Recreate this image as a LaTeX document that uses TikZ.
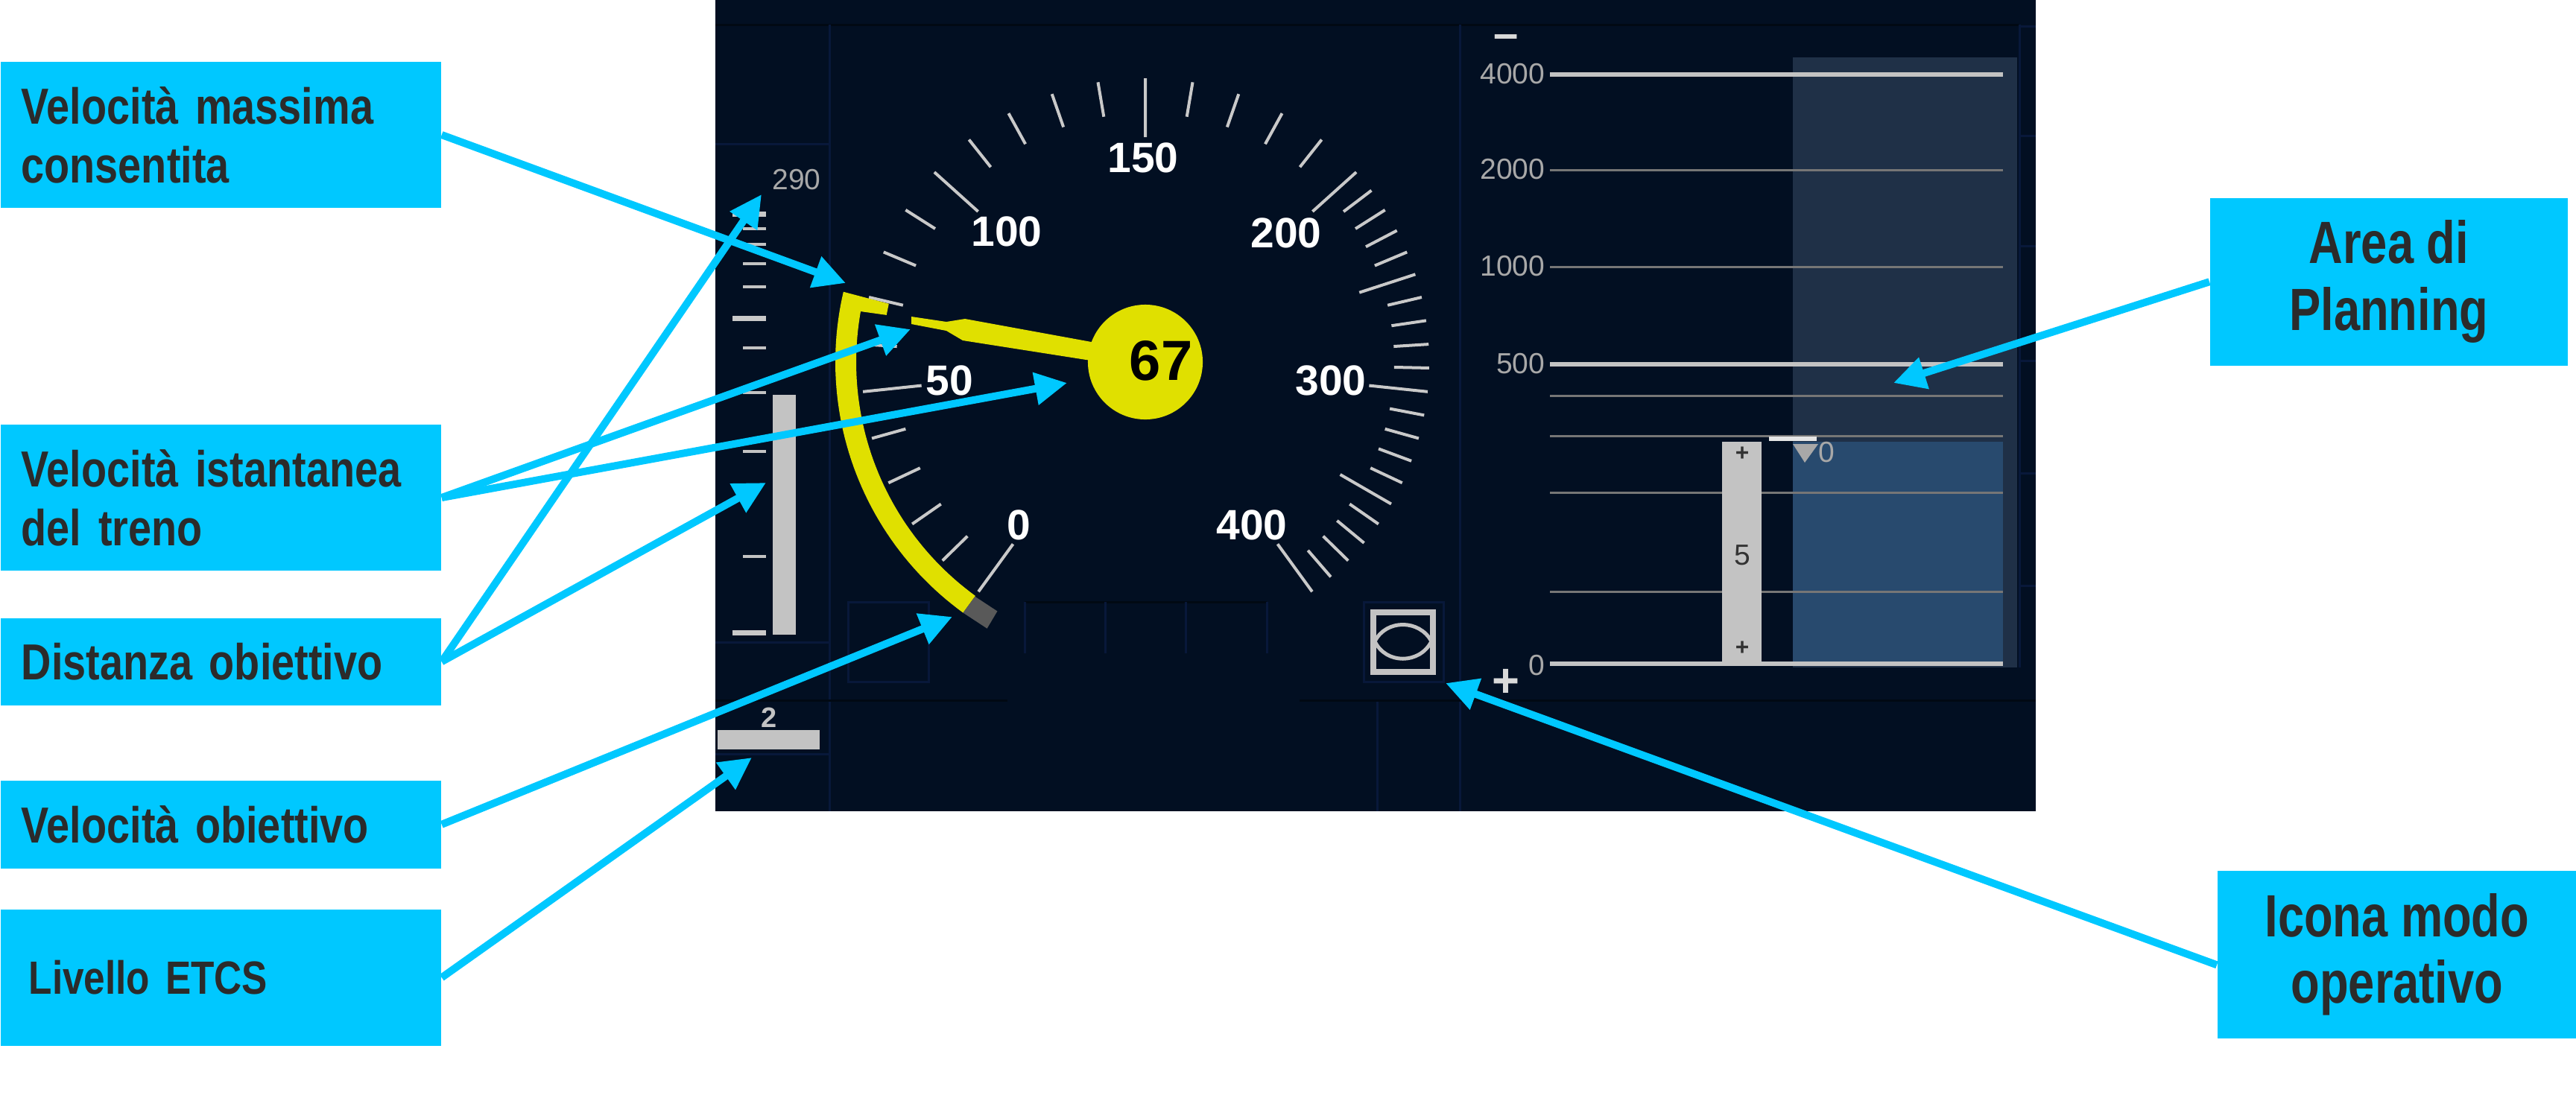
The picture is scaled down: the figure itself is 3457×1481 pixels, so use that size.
\documentclass[tikz,border=0pt]{standalone}
\usepackage{fontspec}
\usepackage{xcolor}
\setmainfont{Liberation Sans}
\newfontfamily\lblfont{Liberation Sans}[FakeStretch=0.82]
\newfontfamily\bigfont{Liberation Sans}[FakeStretch=0.79]
\usetikzlibrary{arrows.meta, positioning, calc}

\definecolor{screenbg}{HTML}{020F22}
\definecolor{panelnavy}{HTML}{08183A}
\definecolor{paneldark}{HTML}{010913}
\definecolor{callout}{HTML}{00C8FF}
\definecolor{calltext}{HTML}{2B2B2B}
\definecolor{dmiyellow}{HTML}{E0E000}
\definecolor{dmigrey}{HTML}{C3C3C3}
\definecolor{dmitext}{HTML}{A8A8A8}
\definecolor{planback}{HTML}{1F3047}
\definecolor{planblue}{HTML}{284A6E}

\tikzset{
	panel/.style={panelnavy, line width=0.03cm},
	paneld/.style={paneldark, line width=0.03cm},
	tick/.style={dmigrey!90!white, line width=0.04cm},
	planline/.style={dmitext!70!black, line width=0.03cm},
	planthick/.style={dmigrey, line width=0.06cm},
	callbox/.style={fill=callout, text=calltext, inner ysep=0pt, anchor=north west,
		align=left, font=\lblfont\bfseries\fontsize{19.35}{22.5}\selectfont},
	callbig/.style={fill=callout, text=calltext, inner sep=0pt, anchor=north west,
		align=center, font=\bigfont\bfseries\fontsize{22.76}{25.5}\selectfont},
	callarrow/.style={callout, line width=0.1cm, -{Triangle[length=0.43cm, width=0.42cm]}},
	speedlbl/.style={white, inner sep=0pt, font=\bfseries\fontsize{16.2}{16.2}\selectfont},
	dimlbl/.style={dmitext, inner sep=0pt, font=\fontsize{11.1}{11.1}\selectfont},
}

\begin{document}
\begin{tikzpicture}[x=0.01cm, y=-0.01cm]
	
	% ----- Page and screen -----
	\fill[white] (0,0) rectangle (3457,1481);
	\useasboundingbox (0,0) rectangle (3457,1481);
	\fill[screenbg] (960,0) rectangle (2732,1089);
	
	% ----- Panel grid -----
	\draw[paneld] (960,33) -- (2710,33);
	\draw[panel] (1113,33) -- (1113,1089);
	\draw[panel] (1959,33) -- (1959,1089);
	\draw[panel] (1848,940) -- (1848,1089);
	\draw[panel] (960,193) -- (1113,193);
	\draw[panel] (960,862) -- (1113,862);
	\draw[paneld] (960,940) -- (1352,940);
	\draw[paneld] (1744,940) -- (2732,940);
	\draw[panel] (960,1012) -- (1113,1012);
	\draw[panel] (2710,33) -- (2710,896);
	\foreach \y in {35,182,330,484,635,786}
		\draw[panel] (2710,\y) -- (2732,\y);
	
	% Soft-key frames
	\draw[panel] (1138,808) rectangle (1246,915);
	\draw[panel] (1830,808) rectangle (1937,915);
	\draw[paneld] (1375,808) -- (1700,808);
	\foreach \x in {1375,1483,1591,1700}
		\draw[panel] (\x,808) -- (\x,877);
	
	% ----- Distance scale (left) -----
	\foreach \y in {307,328,354,385,467,527,606,747}
		\draw[dmigrey, line width=0.04cm] (997,\y) -- (1028,\y);
	\foreach \y in {287,427,849}
		\draw[dmigrey!90!white, line width=0.07cm] (983,\y) -- (1028,\y);
	\fill[dmigrey] (1037,530) rectangle (1068,852);
	\node[dimlbl] (maxlbl) at (1069,241) {290};
	
	% Level bar
	\fill[dmigrey] (963,980) rectangle (1100,1006);
	\node[dimlbl, dmigrey, font=\bfseries\fontsize{10.8}{10.8}\selectfont] (lvlnum) at (1032,963) {2};
	
	% ----- Speed dial -----
	\begin{scope}[shift={(1537,486)}]
		% Ticks: 9.6 deg per 10 up to 200, then 4.8 deg per 10
		\foreach \v in {0,10,...,400} {
			\pgfmathsetmacro\ang{\v<=200 ? -234+0.96*\v : -42+0.48*(\v-200)}
			\pgfmathsetmacro\rin{mod(\v,50)==0 ? 302 : 334}
			\draw[tick] (\ang:\rin) -- (\ang:381);
		}
		% Target speed hook
		\fill[dmiyellow] plot[domain=-234:-166.9, samples=50] (\x:416)
			-- (-167.2:353) -- (-169.7:353) -- (-169.9:386)
			-- plot[domain=-169.9:-234, samples=50] (\x:388) -- cycle;
		\fill[black!65] (-234:416) -- (-239.3:416) -- (-239.3:389) -- (-234:389) -- cycle;
	\end{scope}
	
	\node[speedlbl] (sp0) at (1367,705) {0};
	\node[speedlbl] (sp50) at (1274,511) {50};
	\node[speedlbl] (sp100) at (1351,311) {100};
	\node[speedlbl] (sp150) at (1534,212) {150};
	\node[speedlbl] (sp200) at (1726,313) {200};
	\node[speedlbl] (sp300) at (1786,511) {300};
	\node[speedlbl] (sp400) at (1680,705) {400};
	
	% Needle
	\fill[dmiyellow] (1223,425) -- (1270,432) -- (1295,428) -- (1470,460) -- (1464,484)
		-- (1292,457) -- (1270,444) -- (1223,435) -- cycle;
	\node[circle, fill=dmiyellow, minimum size=1.54cm, inner sep=0pt] (hub) at (1537,486) {};
	\node[inner sep=0pt, text=black, font=\bfseries\fontsize{21.6}{21.6}\selectfont] (spval) at (1558,484) {67};
	
	% Mode icon
	\draw[dmigrey, line width=0.08cm] (1843,822) rectangle (1923,902);
	\draw[dmigrey, line width=0.05cm] (1845,861) .. controls (1860,831) and (1905,831) .. (1921,861);
	\draw[dmigrey, line width=0.05cm] (1845,861) .. controls (1860,892) and (1905,892) .. (1921,861);
	
	% ----- Planning area -----
	\fill[planback] (2406,77) rectangle (2707,896);
	\fill[planblue] (2406,593) rectangle (2688,891);
	\foreach \y in {228,358,531,585,661,794}
		\draw[planline] (2080,\y) -- (2688,\y);
	\foreach \y in {100,489,891}
		\draw[planthick] (2080,\y) -- (2688,\y);
	\node[dimlbl, anchor=east] (pl4000) at (2074,99) {4000};
	\node[dimlbl, anchor=east] (pl2000) at (2074,227) {2000};
	\node[dimlbl, anchor=east] (pl1000) at (2074,357) {1000};
	\node[dimlbl, anchor=east] (pl500) at (2074,488) {500};
	\node[dimlbl, anchor=east] (pl0) at (2074,893) {0};
	\node[white!85!black, inner sep=0pt, font=\bfseries\fontsize{17}{17}\selectfont] (plminus) at (2021,56) {–};
	\node[white!85!black, inner sep=0pt, font=\bfseries\fontsize{18}{18}\selectfont] (plplus) at (2021,917) {+};
	
	% Gradient bar with its plus signs
	\fill[dmigrey] (2311,593) rectangle (2364,890);
	\node[inner sep=0pt, text=black!80, font=\bfseries\fontsize{9}{9}\selectfont] (barp1) at (2338,609) {+};
	\node[inner sep=0pt, text=black!80, font=\fontsize{11.1}{11.1}\selectfont] (barnum) at (2338,745) {5};
	\node[inner sep=0pt, text=black!80, font=\bfseries\fontsize{9}{9}\selectfont] (barp2) at (2338,870) {+};
	
	% Indication marker
	\draw[white!90!black, line width=0.06cm] (2374,589) -- (2438,589);
	\fill[dmitext] (2406,596) -- (2440,596) -- (2422,621) -- cycle;
	\node[dimlbl] (mark0) at (2451,607) {0};
	
	% ----- Callout boxes -----
	\node[callbox, minimum width=5.91cm, minimum height=1.965cm, text width=5.35cm, inner xsep=0.28cm] (lblVmax) at (0,82) {Velocità massima\\consentita};
	\node[callbox, minimum width=5.91cm, minimum height=1.965cm, text width=5.35cm, inner xsep=0.28cm] (lblVact) at (0,569) {Velocità istantanea\\del treno};
	\node[callbox, minimum width=5.91cm, minimum height=1.17cm, text width=5.35cm, inner xsep=0.28cm] (lblDist) at (0,829) {Distanza obiettivo};
	\node[callbox, minimum width=5.91cm, minimum height=1.18cm, text width=5.35cm, inner xsep=0.28cm] (lblVtgt) at (0,1047) {Velocità obiettivo};
	\node[callbox, minimum width=5.91cm, minimum height=1.83cm, text width=5.15cm, inner xsep=0.38cm, font=\lblfont\bfseries\fontsize{17.8}{20}\selectfont] (lblLevel) at (0,1220) {Livello ETCS};
	\node[callbig, minimum width=4.80cm, minimum height=2.25cm] (lblPlan) at (2965,265) {Area di\\Planning};
	\node[callbig, minimum width=4.82cm, minimum height=2.25cm] (lblMode) at (2975,1168) {Icona modo\\operativo};
	
	% ----- Arrow targets -----
	\coordinate (tipVmax) at (1135,380);
	\coordinate (tipNeedle) at (1222,442);
	\coordinate (tipHub) at (1432,514);
	\coordinate (tipScale) at (1022,261);
	\coordinate (tipBar) at (1028,648);
	\coordinate (tipVtgt) at (1278,828);
	\coordinate (tipLevel) at (1009,1017);
	\coordinate (tipPlan) at (2541,514);
	\coordinate (tipMode) at (1940,917);
	
	% ----- Arrows -----
	\draw[callarrow] (lblVmax.east) -- (tipVmax);
	\draw[callarrow] (lblVact.east) -- (tipNeedle);
	\draw[callarrow] (lblVact.east) -- (tipHub);
	\draw[callarrow] (lblDist.east) -- (tipScale);
	\draw[callarrow] (lblDist.east) -- (tipBar);
	\draw[callarrow] (lblVtgt.east) -- (tipVtgt);
	\draw[callarrow] (lblLevel.east) -- (tipLevel);
	\draw[callarrow] (lblPlan.west) -- (tipPlan);
	\draw[callarrow] ([yshift=-0.14cm]lblMode.west) -- (tipMode);
	
\end{tikzpicture}
\end{document}
